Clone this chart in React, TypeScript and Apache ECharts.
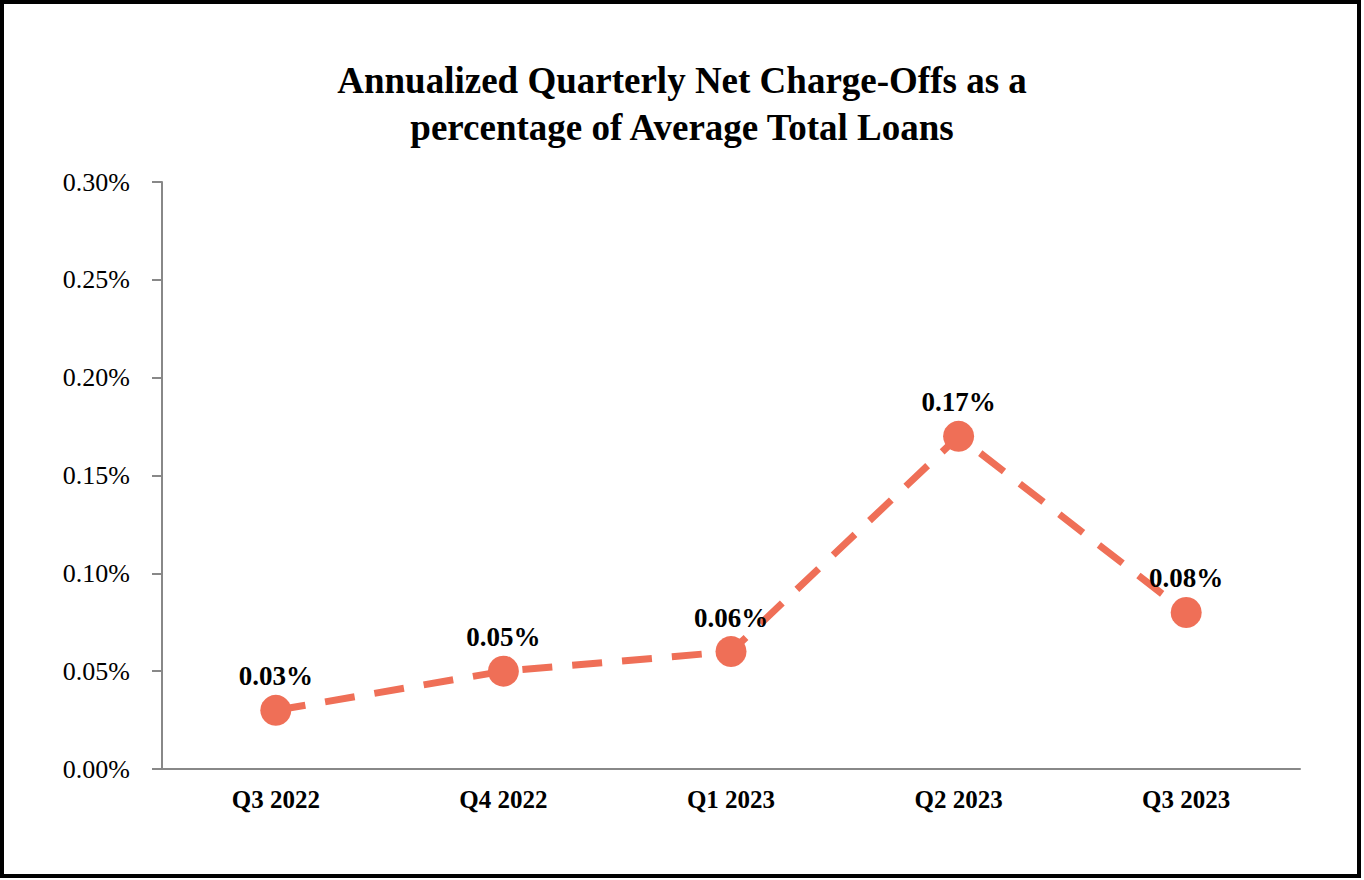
import React, { useEffect, useRef } from "react";
import * as echarts from "echarts";

const categories = ["Q3 2022", "Q4 2022", "Q1 2023", "Q2 2023", "Q3 2023"];
const chargeOffs = [0.03, 0.05, 0.06, 0.17, 0.08];
const yTicks = [0, 0.05, 0.1, 0.15, 0.2, 0.25, 0.3];

const FONT = "'Liberation Serif', 'Times New Roman', serif";
const LINE_COLOR = "#EF6F57";

export default function App() {
  const ref = useRef<HTMLDivElement>(null);
  useEffect(() => {
    document.body.style.margin = "0";
    const chart = echarts.init(ref.current!, null, { renderer: "svg" });
    chart.setOption({
      animation: false,
      backgroundColor: "#ffffff",
      title: {
        text: "Annualized Quarterly Net Charge-Offs as a\npercentage of Average Total Loans",
        left: "center",
        top: 52,
        textStyle: {
          fontFamily: FONT,
          fontWeight: "bold",
          fontSize: 37,
          lineHeight: 47,
          color: "#000",
        },
      },
      graphic: [
        {
          type: "rect",
          shape: { x: 2, y: 2, width: 1357, height: 874 },
          style: { fill: "none", stroke: "#000", lineWidth: 4 },
          silent: true,
        },
      ],
      grid: { left: 162, right: 64, top: 182, bottom: 111, containLabel: false },
      xAxis: {
        type: "category",
        data: categories,
        boundaryGap: true,
        axisLine: { lineStyle: { color: "#888", width: 2 } },
        axisTick: { alignWithLabel: true, length: 10, lineStyle: { color: "#888", width: 2 } },
        axisLabel: {
          fontFamily: FONT,
          fontWeight: "bold",
          fontSize: 25,
          color: "#000",
          margin: 18,
        },
      },
      yAxis: {
        type: "value",
        min: yTicks[0],
        max: yTicks[yTicks.length - 1],
        interval: 0.05,
        splitLine: { show: false },
        axisLine: { show: true, lineStyle: { color: "#888", width: 2 } },
        axisTick: { show: true, length: 10, lineStyle: { color: "#888", width: 2 } },
        axisLabel: {
          fontFamily: FONT,
          fontSize: 26,
          color: "#000",
          margin: 32,
          formatter: (v: number) => v.toFixed(2) + "%",
        },
      },
      series: [
        {
          type: "line",
          data: chargeOffs,
          symbol: "circle",
          symbolSize: 31,
          itemStyle: { color: LINE_COLOR },
          lineStyle: { color: LINE_COLOR, width: 7, type: [30, 20] },
          label: {
            show: true,
            position: "top",
            distance: 5,
            fontFamily: FONT,
            fontWeight: "bold",
            fontSize: 27,
            color: "#000",
            formatter: (p: any) => p.value.toFixed(2) + "%",
          },
        },
      ],
    });
    return () => chart.dispose();
  }, []);
  return <div ref={ref} style={{ width: 1364, height: 880 }} />;
}
